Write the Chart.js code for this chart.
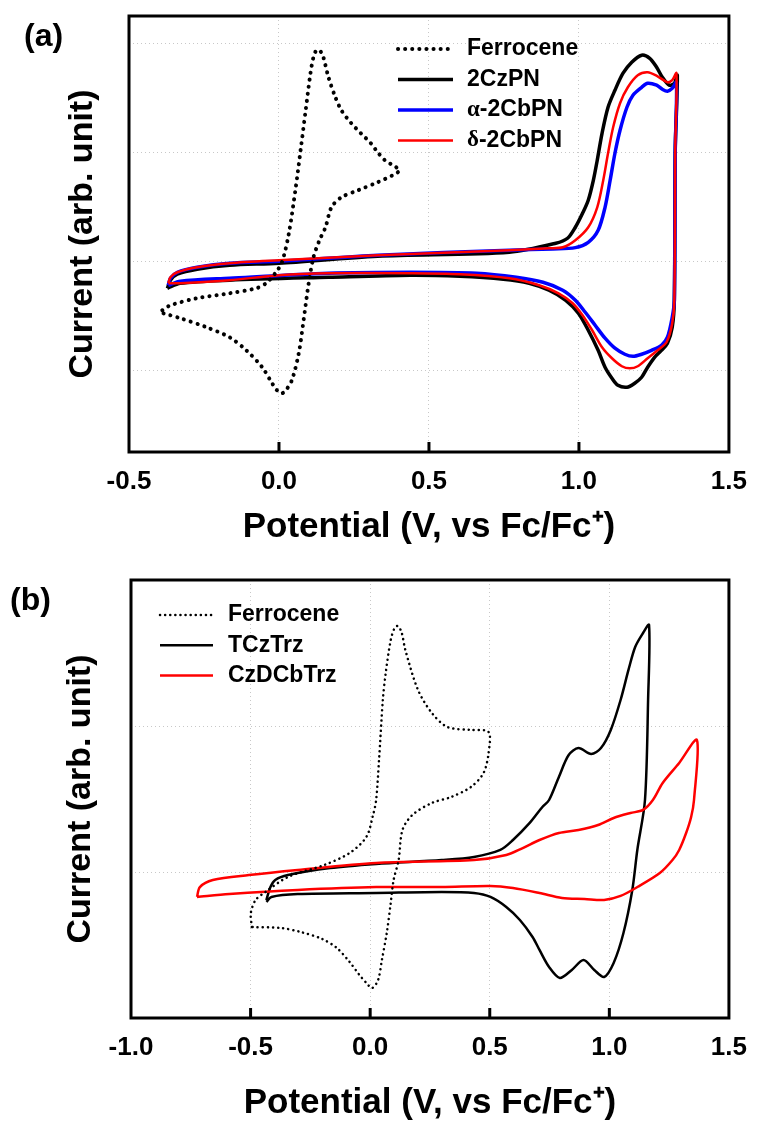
<!DOCTYPE html>
<html>
<head>
<meta charset="utf-8">
<script src="https://cdn.jsdelivr.net/npm/chart.js@4.4.0/dist/chart.umd.min.js"></script>
<style>
  body { margin: 0; background: #fff; }
  #wrap { position: relative; width: 761px; height: 1121px; }
  canvas { position: absolute; left: 0; }
  #cvA { top: 0; }
  #cvB { top: 560px; }
  .panel { position: absolute; font: bold 32px "Liberation Sans", Arial, sans-serif; line-height: 1; color: #000; }
</style>
</head>
<body>
<div id="wrap">
  <canvas id="cvA" width="761" height="560"></canvas>
  <canvas id="cvB" width="761" height="561"></canvas>
  <div class="panel" style="left:24px; top:19px;">(a)</div>
  <div class="panel" style="left:10px; top:583px;">(b)</div>
</div>
<script>
// ---- panel (a): potential (V vs Fc/Fc+) vs current (arb. unit) ----
const xTicksA = [-0.5, 0, 0.5, 1.0, 1.5];
const yGridA = [-1, 0, 1, 2];

const fcA_x = [-0.389,-0.362,-0.273,-0.165,-0.076,-0.043,-0.010,0.010,0.033,0.056,0.072,0.089,0.105,0.115,0.125,0.138,0.148,0.165,0.188,0.208,0.241,0.273,0.306,0.329,0.353,0.379,0.402,
               0.379,0.329,0.264,0.208,0.175,0.155,0.135,0.115,0.099,0.082,0.066,0.043,0.023,0.010,-0.007,-0.023,-0.056,-0.109,-0.165,-0.241,-0.329,-0.386];
const fcA_y = [-0.450,-0.404,-0.339,-0.294,-0.248,-0.202,-0.101,-0.009,0.257,0.679,1.018,1.385,1.725,1.872,1.936,1.927,1.872,1.688,1.505,1.385,1.266,1.174,1.083,1.000,0.927,0.881,0.835,
               0.789,0.725,0.651,0.587,0.495,0.312,0.193,0.037,-0.202,-0.541,-0.844,-1.092,-1.183,-1.211,-1.183,-1.119,-0.972,-0.817,-0.697,-0.606,-0.523,-0.477];

const czpn_x = [-0.372,-0.362,-0.339,-0.273,-0.165,0.000,0.329,0.768,0.923,0.962,0.988,1.012,1.031,1.048,1.061,1.077,1.097,1.120,1.147,1.176,1.209,1.236,1.259,1.278,1.301,1.318,1.328,
                1.321,1.318,1.311,1.295,1.275,1.252,1.229,1.209,1.186,1.160,1.130,1.110,1.087,1.064,1.031,0.998,0.956,0.900,0.834,0.748,0.603,0.438,0.165,-0.165,-0.329,-0.372];
const czpn_y = [-0.248,-0.174,-0.119,-0.073,-0.037,-0.018,0.046,0.083,0.165,0.211,0.312,0.440,0.560,0.743,0.927,1.174,1.413,1.569,1.725,1.826,1.890,1.862,1.780,1.688,1.615,1.633,1.706,
                1.018,-0.358,-0.606,-0.752,-0.817,-0.881,-0.972,-1.064,-1.119,-1.156,-1.138,-1.073,-0.972,-0.817,-0.633,-0.477,-0.358,-0.266,-0.202,-0.165,-0.138,-0.128,-0.147,-0.174,-0.202,-0.248];

const aCb_x = [-0.369,-0.362,-0.339,-0.273,-0.165,0.000,0.329,0.768,0.913,0.988,1.031,1.064,1.087,1.104,1.120,1.137,1.160,1.180,1.209,1.229,1.259,1.278,1.295,1.311,1.325,
               1.321,1.318,1.311,1.295,1.275,1.242,1.209,1.180,1.153,1.120,1.087,1.054,1.021,0.988,0.946,0.880,0.791,0.659,0.438,0.165,-0.165,-0.329,-0.369];
const aCb_y = [-0.220,-0.156,-0.101,-0.055,-0.018,0.000,0.055,0.101,0.113,0.125,0.174,0.284,0.495,0.743,0.991,1.202,1.413,1.523,1.596,1.633,1.615,1.578,1.560,1.587,1.642,
               1.018,-0.358,-0.514,-0.697,-0.771,-0.817,-0.853,-0.872,-0.853,-0.798,-0.706,-0.587,-0.468,-0.358,-0.266,-0.193,-0.147,-0.110,-0.101,-0.110,-0.156,-0.183,-0.220];

const dCb_x = [-0.369,-0.362,-0.339,-0.273,-0.165,0.000,0.329,0.768,0.900,0.946,0.988,1.031,1.061,1.081,1.097,1.114,1.137,1.163,1.196,1.229,1.262,1.295,1.311,1.325,
               1.321,1.318,1.311,1.292,1.262,1.229,1.196,1.170,1.143,1.110,1.077,1.044,1.012,0.979,0.932,0.867,0.768,0.603,0.438,0.165,0.000,-0.165,-0.329,-0.369];
const dCb_y = [-0.202,-0.147,-0.101,-0.055,-0.018,0.009,0.055,0.101,0.119,0.128,0.193,0.312,0.495,0.743,0.991,1.229,1.450,1.596,1.706,1.734,1.697,1.642,1.661,1.725,
               1.018,-0.358,-0.569,-0.743,-0.817,-0.890,-0.963,-0.982,-0.963,-0.890,-0.789,-0.633,-0.495,-0.385,-0.294,-0.220,-0.156,-0.119,-0.110,-0.110,-0.128,-0.174,-0.202,-0.202];

// ---- panel (b) ----
const xTicksB = [-1.0, -0.5, 0, 0.5, 1.0, 1.5];
const yGridB = [0, 1];

const fcB_x = [-0.495,-0.499,-0.479,-0.438,-0.344,-0.192,-0.086,-0.016,0.012,0.025,0.037,0.053,0.065,0.086,0.102,0.115,0.131,0.147,0.200,0.258,0.323,0.421,0.495,
               0.495,0.474,0.421,0.339,0.258,0.176,0.135,0.119,0.098,0.086,0.070,0.049,0.033,0.008,-0.016,-0.045,-0.086,-0.139,-0.200,-0.290,-0.372,-0.495];
const fcB_y = [-0.377,-0.281,-0.192,-0.137,-0.034,0.048,0.130,0.240,0.390,0.493,0.767,1.178,1.363,1.589,1.671,1.685,1.644,1.521,1.247,1.089,0.993,0.973,0.959,
               0.815,0.678,0.582,0.514,0.473,0.390,0.288,0.082,-0.055,-0.212,-0.411,-0.603,-0.740,-0.795,-0.760,-0.705,-0.616,-0.521,-0.459,-0.411,-0.384,-0.377];

const tcz_x = [-0.434,-0.417,-0.397,-0.344,-0.168,0.025,0.299,0.434,0.544,0.597,0.667,0.720,0.748,0.789,0.830,0.871,0.924,0.965,1.006,1.047,1.080,1.108,1.141,1.166,
               1.162,1.149,1.117,1.096,1.059,1.018,0.978,0.937,0.892,0.843,0.793,0.748,0.708,0.679,0.626,0.569,0.503,0.434,0.299,0.025,-0.303,-0.413,-0.434];
const tcz_y = [-0.192,-0.103,-0.055,-0.021,0.027,0.055,0.082,0.103,0.151,0.219,0.336,0.445,0.493,0.651,0.801,0.849,0.808,0.849,0.973,1.178,1.384,1.541,1.637,1.692,
               1.178,0.493,0.151,-0.123,-0.418,-0.623,-0.719,-0.671,-0.603,-0.671,-0.726,-0.651,-0.534,-0.445,-0.329,-0.240,-0.171,-0.144,-0.137,-0.144,-0.151,-0.171,-0.205];

const dcb_x = [-0.724,-0.712,-0.658,-0.507,-0.303,0.025,0.434,0.569,0.638,0.708,0.789,0.871,0.953,1.018,1.088,1.141,1.182,1.223,1.292,1.366,
               1.354,1.342,1.321,1.292,1.264,1.211,1.117,1.047,0.978,0.896,0.802,0.708,0.597,0.503,0.299,0.025,-0.303,-0.589,-0.724];
const dcb_y = [-0.171,-0.103,-0.055,-0.021,0.014,0.062,0.082,0.116,0.164,0.219,0.267,0.288,0.322,0.370,0.404,0.425,0.493,0.610,0.747,0.904,
               0.493,0.377,0.267,0.151,0.082,-0.007,-0.103,-0.164,-0.192,-0.185,-0.178,-0.144,-0.110,-0.096,-0.103,-0.103,-0.123,-0.151,-0.171];

Chart.defaults.font.family = '"Liberation Sans", Arial, sans-serif';
Chart.defaults.color = '#000';

const pts = (xs, ys) => xs.map((x, i) => ({ x: x, y: ys[i] }));

function curve(label, xs, ys, color, width, order, dots) {
    return {
        label: label,
        data: pts(xs, ys),
        showLine: true,
        borderColor: color,
        borderWidth: width,
        borderDash: dots ? dots : [],
        borderCapStyle: dots ? 'round' : 'butt',
        borderJoinStyle: 'round',
        pointRadius: 0,
        tension: 0.3,
        order: order
    };
}

// black frame + inward tick marks on the bottom axis
const framePlugin = {
    id: 'cvFrame',
    afterDraw(chart) {
        const { ctx, chartArea: a, scales: { x } } = chart;
        ctx.save();
        ctx.strokeStyle = '#000';
        ctx.lineWidth = 3;
        x.ticks.forEach(t => {
            if (t.value <= x.min || t.value >= x.max) return;
            const px = x.getPixelForValue(t.value);
            ctx.beginPath();
            ctx.moveTo(px, a.bottom);
            ctx.lineTo(px, a.bottom - 10);
            ctx.stroke();
        });
        ctx.strokeRect(a.left, a.top, a.right - a.left, a.bottom - a.top);
        ctx.restore();
    }
};

// legend drawn inside the plot
const legendPlugin = {
    id: 'cvLegend',
    afterDraw(chart, args, opts) {
        const ctx = chart.ctx;
        ctx.save();
        ctx.textBaseline = 'middle';
        chart.data.datasets.forEach((ds, k) => {
            const y = opts.y + k * opts.dy;
            ctx.beginPath();
            ctx.setLineDash(ds.borderDash);
            ctx.lineCap = ds.borderCapStyle;
            ctx.lineWidth = ds.borderWidth;
            ctx.strokeStyle = ds.borderColor;
            ctx.moveTo(opts.x, y);
            ctx.lineTo(opts.x + opts.len, y);
            ctx.stroke();
            ctx.setLineDash([]);
            ctx.fillStyle = '#000';
            let tx = opts.x + opts.len + opts.gap;
            let text = ds.label;
            if (/^[α-ω]/.test(text)) {
                ctx.font = 'bold 23px "Liberation Serif", "Times New Roman", serif';
                ctx.fillText(text[0], tx, y);
                tx += ctx.measureText(text[0]).width;
                text = text.slice(1);
            }
            ctx.font = 'bold 23px "Liberation Sans", Arial, sans-serif';
            ctx.fillText(text, tx, y);
        });
        ctx.restore();
    }
};

function makeChart(id, datasets, cfg) {
    const canvas = document.getElementById(id);
    return new Chart(canvas.getContext('2d'), {
        type: 'scatter',
        data: { datasets: datasets },
        plugins: [framePlugin, legendPlugin],
        options: {
            responsive: false,
            animation: false,
            layout: { padding: { top: cfg.top, right: cfg.right, left: 0, bottom: 0 } },
            plugins: {
                legend: { display: false },
                tooltip: { enabled: false },
                cvLegend: cfg.legend
            },
            scales: {
                x: {
                    type: 'linear',
                    min: cfg.xTicks[0],
                    max: cfg.xTicks[cfg.xTicks.length - 1],
                    afterBuildTicks: s => { s.ticks = cfg.xTicks.map(v => ({ value: v })); },
                    afterFit: s => { s.height = canvas.height - cfg.bottom; },
                    grid: { color: '#c8c8c8', lineWidth: 1, drawTicks: false },
                    border: { display: false, dash: [1, 3] },
                    ticks: {
                        padding: 14,
                        color: '#000',
                        font: { size: 26, weight: 'bold' },
                        callback: v => v.toFixed(1)
                    },
                    title: {
                        display: true,
                        text: 'Potential (V, vs Fc/Fc⁺)',
                        color: '#000',
                        font: { size: 35, weight: 'bold', lineHeight: 1 },
                        padding: { top: 0, bottom: cfg.xTitlePad }
                    }
                },
                y: {
                    type: 'linear',
                    min: cfg.yMin,
                    max: cfg.yMax,
                    afterBuildTicks: s => { s.ticks = cfg.yGrid.map(v => ({ value: v })); },
                    afterFit: s => { s.width = cfg.left; },
                    grid: { color: '#c8c8c8', lineWidth: 1, drawTicks: false },
                    border: { display: false, dash: [1, 3] },
                    ticks: { display: false },
                    title: {
                        display: true,
                        text: 'Current (arb. unit)',
                        color: '#000',
                        font: { size: 34, weight: 'bold', lineHeight: 1 },
                        padding: { top: cfg.yTitlePad, bottom: 0 }
                    }
                }
            }
        }
    });
}

makeChart('cvA', [
    curve('Ferrocene', fcA_x, fcA_y, '#000', 4, 0, [0.1, 7]),
    curve('2CzPN', czpn_x, czpn_y, '#000', 3.5, 3),
    curve('α-2CbPN', aCb_x, aCb_y, '#0000ff', 3.5, 2),
    curve('δ-2CbPN', dCb_x, dCb_y, '#ff0000', 2.5, 1)
], {
    xTicks: xTicksA, yGrid: yGridA, yMin: -1.75, yMax: 2.25,
    top: 16, right: 26, left: 129, bottom: 452,
    xTitlePad: 15, yTitlePad: 66,
    legend: { x: 398, y: 49, dy: 30.5, len: 55, gap: 14 }
});

makeChart('cvB', [
    curve('Ferrocene', fcB_x, fcB_y, '#000', 2.5, 0, [0.1, 5]),
    curve('TCzTrz', tcz_x, tcz_y, '#000', 2.5, 2),
    curve('CzDCbTrz', dcb_x, dcb_y, '#ff0000', 2.5, 1)
], {
    xTicks: xTicksB, yGrid: yGridB, yMin: -1, yMax: 2,
    top: 20, right: 21, left: 131, bottom: 458,
    xTitlePad: 0, yTitlePad: 64,
    legend: { x: 160, y: 55, dy: 30.3, len: 53, gap: 15 }
});
</script>
</body>
</html>
